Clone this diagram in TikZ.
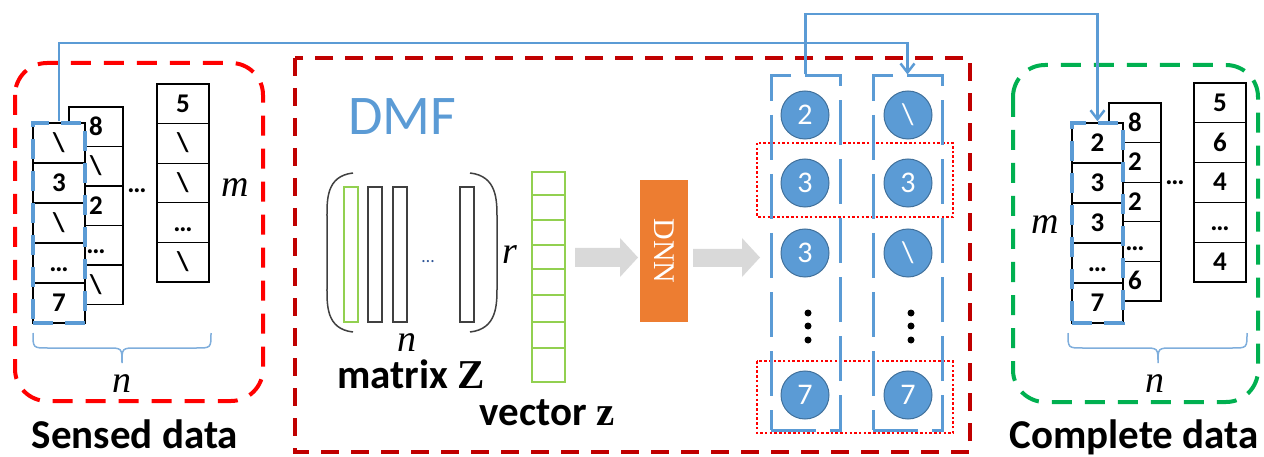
\documentclass[tikz,border=0pt]{standalone}
\usepackage{fontspec}
\setmainfont{Carlito}
\newfontfamily\serifface{Liberation Serif}
\usetikzlibrary{arrows.meta,calc}
\definecolor{cblue}{HTML}{5B9BD5}
\definecolor{cbluedk}{HTML}{41719C}
\definecolor{dred}{HTML}{C00000}
\definecolor{bred}{HTML}{FF0000}
\definecolor{cgreen}{HTML}{00B050}
\definecolor{lgreen}{HTML}{92D050}
\definecolor{corange}{HTML}{ED7D31}
\definecolor{cgray}{HTML}{D9D9D9}
\definecolor{dgray}{HTML}{404040}
\definecolor{lblue}{HTML}{7FAEDC}
\definecolor{dotblue}{HTML}{2F5597}
\newcommand{\bZ}[1]{{\serifface\bfseries #1}}
\begin{document}
\begin{tikzpicture}[x=1pt,y=-1pt,
  cell/.style={draw=black,line width=1.2pt,fill=white,inner sep=0pt,font=\fontsize{27}{27}\selectfont\bfseries,text height=17pt,text depth=0pt},
  bigbox/.style={line width=4pt,dash pattern=on 20pt off 13pt},
  colbox/.style={draw=cblue,line width=3.5pt,dash pattern=on 20pt off 12pt,inner sep=0pt},
  outcol/.style={draw=cblue,line width=3pt,dash pattern=on 45pt off 14pt,inner sep=0pt,minimum width=69pt,minimum height=354pt},
  outc/.style={circle,fill=cblue,draw=cbluedk,line width=1pt,minimum size=48pt,inner sep=0pt,text=white,font=\fontsize{30}{30}\selectfont,text height=19pt,text depth=0pt},
  conn/.style={draw=cblue,line width=2.5pt,-{Straight Barb[length=9pt,width=14pt]}},
  brc/.style={draw=lblue,line width=1.5pt},
  lbl/.style={font=\fontsize{41}{41}\selectfont\bfseries,inner sep=0pt},
  var/.style={font=\serifface\itshape\fontsize{38}{38}\selectfont,inner sep=0pt},
  reddot/.style={draw=bred,line width=2.5pt,dash pattern=on 2.5pt off 2.2pt},
  bararrow/.style={fill=cgray,draw=none},
  bar/.style={draw=dgray,line width=1.5pt}
]
\useasboundingbox (0,0) rectangle (1264,457);

% ---------- Sensed data ----------
\draw[bigbox,bred,rounded corners=32pt] (15,63) rectangle (263,401);
\foreach \v [count=\i] in {5,{\textbackslash},{\textbackslash},…,{\textbackslash}}
  \node[cell,minimum width=52pt,minimum height=39.6pt] (sc\i) at (183,{84+39.6*(\i-0.5)}) {\v};
\foreach \v [count=\i] in {8,{\textbackslash},2,…,{\textbackslash}}
  \node[cell,minimum width=54pt,minimum height=39.5pt] (sb\i) at (96,{107+39.5*(\i-0.5)}) {\v};
\foreach \v [count=\i] in {{\textbackslash},3,{\textbackslash},…,7}
  \node[cell,minimum width=52pt,minimum height=40pt] (sa\i) at (59,{123+40*(\i-0.5)}) {\v};
\node[colbox,minimum width=52pt,minimum height=200pt] (sdcol) at (59,223) {};
\node[cell,draw=none,fill=none,anchor=base] (sdots) at (137,193) {…};
\node[var,anchor=base] (sm) at (235,197) {m};
\draw[brc] (33,333) .. controls (33,348) .. (48,348) -- (107,348) .. controls (122,348) .. (122,363)
  .. controls (122,348) .. (137,348) -- (196,348) .. controls (211,348) .. (211,333);
\node[var,anchor=base] (sn) at (122,392) {n};
\node[lbl,anchor=base] (sensed) at (135,448) {Sensed data};

% ---------- DMF ----------
\draw[bigbox,dred,dash pattern=on 18pt off 12pt] (295,58) rectangle (970,452);
\node[anchor=base west,inner sep=0pt,text=cblue,font=\fontsize{56}{56}\selectfont] (dmf) at (348,135) {DMF};

% matrix Z
\draw[bar] (353,173) .. controls (326,176) and (327,200) .. (327,218) -- (327,287) .. controls (327,305) and (326,329) .. (353,332);
\draw[bar] (470,173) .. controls (497,176) and (497,200) .. (497,218) -- (497,287) .. controls (497,305) and (497,329) .. (470,332);
\draw[draw=lgreen,line width=1.3pt] (344,187) rectangle (358,322);
\draw[bar] (368,187) rectangle (382,322);
\draw[bar] (393,187) rectangle (407,322);
\draw[bar] (460,187) rectangle (474,322);
\node[anchor=base,inner sep=0pt,text=dotblue,font=\fontsize{18}{18}\selectfont] (mdots) at (428,262) {…};
\node[var,anchor=base] (mr) at (510,263) {r};
\node[var,anchor=base] (mn) at (407,351) {n};
\node[lbl,anchor=base] (matz) at (411,388) {matrix \bZ{Z}};

% vector z
\foreach \a/\b in {172/195,195/220,220/245,245/269,269/295,295/322,322/348,348/382}
  \draw[draw=lgreen,line width=2.5pt] (532,\a) rectangle (565,\b);
\node[lbl,anchor=base] (vecz) at (547,425) {vector \bZ{z}};

% gray arrows and DNN
\fill[bararrow] (575,248) -- (620,248) -- (620,238) -- (638,257.5) -- (620,277) -- (620,267) -- (575,267) -- cycle;
\node[fill=corange,minimum width=48pt,minimum height=142pt,inner sep=0pt] (dnn) at (664,251) {};
\node[rotate=-90,text=white,font=\serifface\fontsize{30}{30}\selectfont,inner sep=0pt] (dnnt) at (dnn.center) {DNN};
\fill[bararrow] (693,249) -- (742,249) -- (742,238) -- (760,257.5) -- (742,277) -- (742,267) -- (693,267) -- cycle;

% output columns
\draw[reddot] (757,143) rectangle (953,217);
\draw[reddot] (757,361) rectangle (953,433);
\node[outcol] (oc1) at (805.5,253) {};
\node[outcol] (oc2) at (907.5,253) {};
\foreach \v/\y [count=\i] in {2/115,3/183,3/253,7/395}
  \node[outc] (oa\i) at (805,\y) {\v};
\foreach \v/\y [count=\i] in {{\textbackslash}/115,3/183,{\textbackslash}/253,7/395}
  \node[outc] (ob\i) at (908,\y) {\v};
\foreach \y in {313,326,340} {
  \fill (808,\y) circle (3.5pt);
  \fill (911,\y) circle (3.5pt);
}

% ---------- Complete data ----------
\draw[bigbox,cgreen,rounded corners=32pt] (1013,65) rectangle (1258,402);
\foreach \v [count=\i] in {5,6,4,…,4}
  \node[cell,minimum width=52pt,minimum height=39.8pt] (cc\i) at (1220,{83+39.8*(\i-0.5)}) {\v};
\foreach \v [count=\i] in {8,2,2,…,6}
  \node[cell,minimum width=52pt,minimum height=39.6pt] (cb\i) at (1135,{103+39.6*(\i-0.5)}) {\v};
\foreach \v [count=\i] in {2,3,3,…,7}
  \node[cell,minimum width=51pt,minimum height=40pt] (ca\i) at (1097.5,{123+40*(\i-0.5)}) {\v};
\node[colbox,minimum width=51pt,minimum height=200pt] (cdcol) at (1097.5,223) {};
\node[cell,draw=none,fill=none,anchor=base] (cdots) at (1175,185) {…};
\node[var,anchor=base] (cm) at (1045,234) {m};
\draw[brc] (1068,333) .. controls (1068,348) .. (1083,348) -- (1143,348) .. controls (1158,348) .. (1158,363)
  .. controls (1158,348) .. (1173,348) -- (1232,348) .. controls (1247,348) .. (1247,333);
\node[var,anchor=base] (cn) at (1155,392) {n};
\node[lbl,anchor=base] (complete) at (1134,448) {Complete data};

% ---------- connectors ----------
\coordinate (top1) at (0,43);
\coordinate (top2) at (0,14);
\draw[conn] (sdcol.north) -- (sdcol.north |- top1) -- (oc2.north |- top1) -- (oc2.north);
\draw[conn] (oc1.north) -- (oc1.north |- top2) -- (cdcol.north |- top2) -- (cdcol.north);
\end{tikzpicture}
\end{document}
